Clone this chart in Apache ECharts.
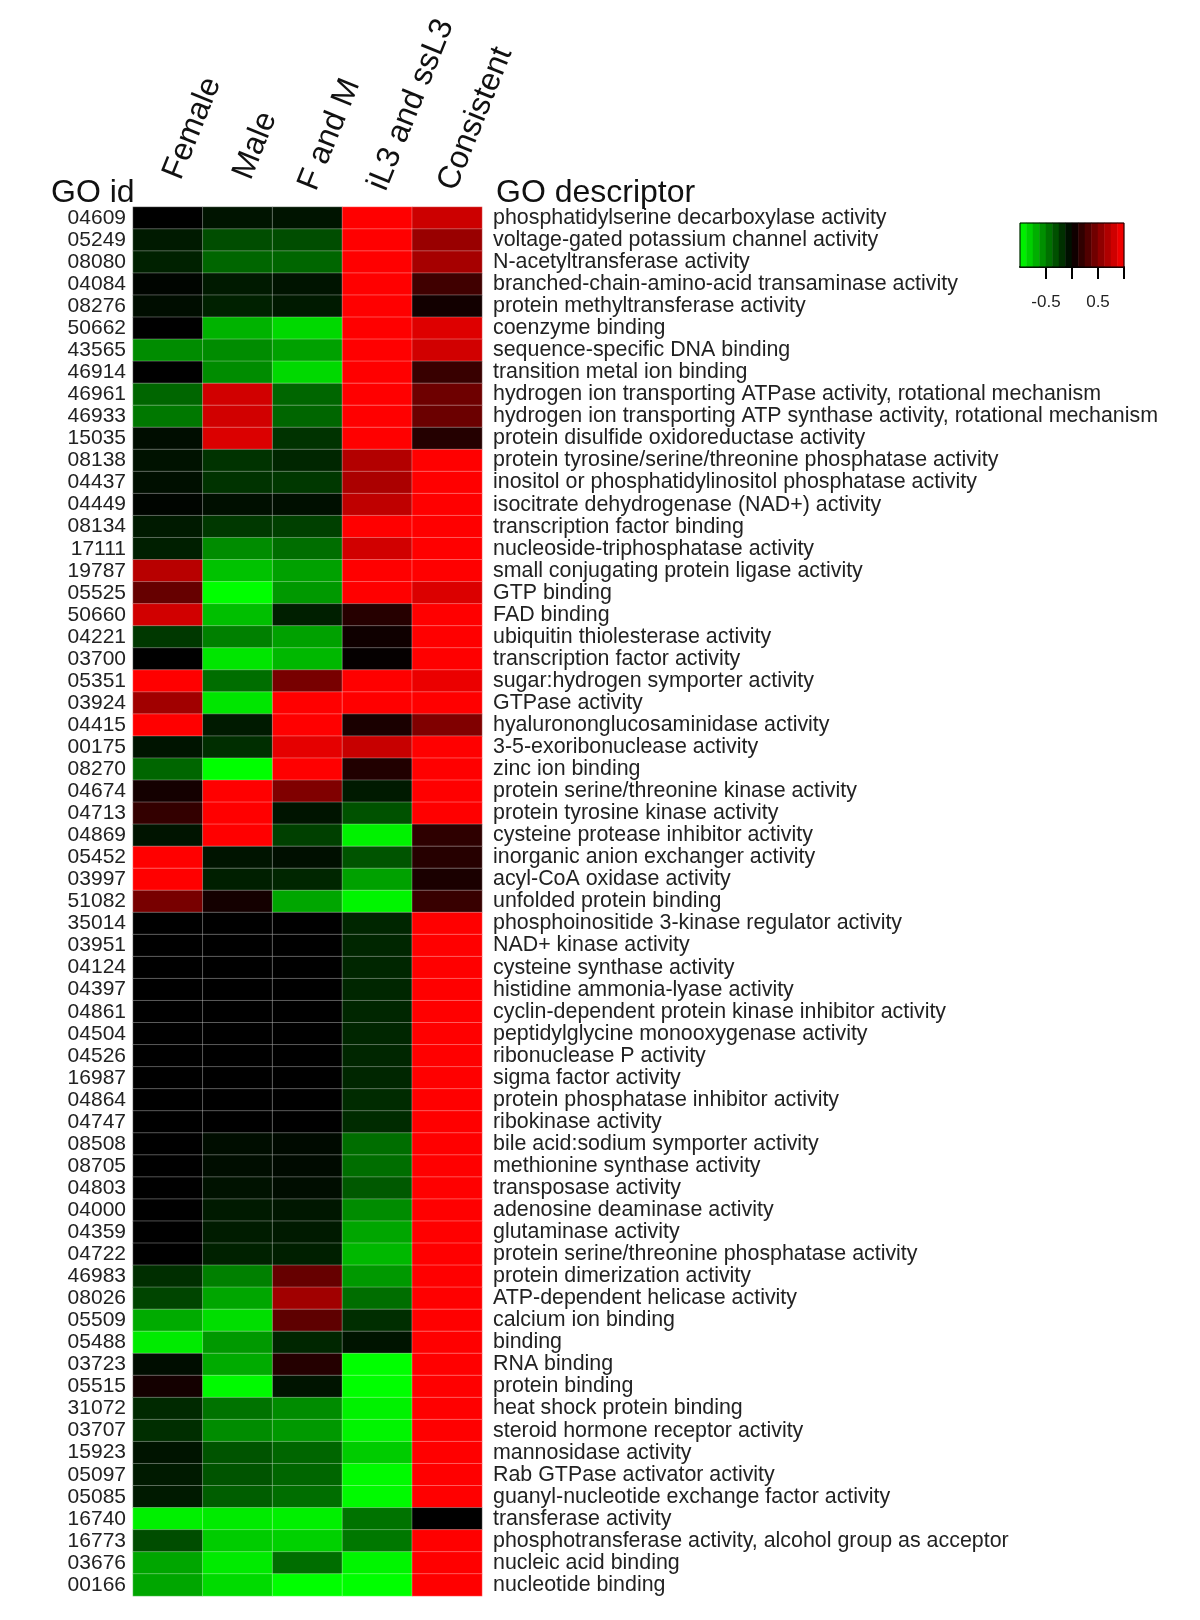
<!DOCTYPE html>
<html><head><meta charset="utf-8">
<script src="https://cdn.jsdelivr.net/npm/echarts@6.0.0/dist/echarts.min.js"></script>
<style>html,body{margin:0;padding:0;background:#fff}#c{width:1200px;height:1620px}</style>
</head><body><div id="c"></div>
<script>
const goIds = ['04609','05249','08080','04084','08276','50662','43565','46914','46961','46933','15035','08138','04437','04449','08134','17111','19787','05525','50660','04221','03700','05351','03924','04415','00175','08270','04674','04713','04869','05452','03997','51082','35014','03951','04124','04397','04861','04504','04526','16987','04864','04747','08508','08705','04803','04000','04359','04722','46983','08026','05509','05488','03723','05515','31072','03707','15923','05097','05085','16740','16773','03676','00166'];
const descriptors = ['phosphatidylserine decarboxylase activity','voltage-gated potassium channel activity','N-acetyltransferase activity','branched-chain-amino-acid transaminase activity','protein methyltransferase activity','coenzyme binding','sequence-specific DNA binding','transition metal ion binding','hydrogen ion transporting ATPase activity, rotational mechanism','hydrogen ion transporting ATP synthase activity, rotational mechanism','protein disulfide oxidoreductase activity','protein tyrosine/serine/threonine phosphatase activity','inositol or phosphatidylinositol phosphatase activity','isocitrate dehydrogenase (NAD+) activity','transcription factor binding','nucleoside-triphosphatase activity','small conjugating protein ligase activity','GTP binding','FAD binding','ubiquitin thiolesterase activity','transcription factor activity','sugar:hydrogen symporter activity','GTPase activity','hyalurononglucosaminidase activity','3-5-exoribonuclease activity','zinc ion binding','protein serine/threonine kinase activity','protein tyrosine kinase activity','cysteine protease inhibitor activity','inorganic anion exchanger activity','acyl-CoA oxidase activity','unfolded protein binding','phosphoinositide 3-kinase regulator activity','NAD+ kinase activity','cysteine synthase activity','histidine ammonia-lyase activity','cyclin-dependent protein kinase inhibitor activity','peptidylglycine monooxygenase activity','ribonuclease P activity','sigma factor activity','protein phosphatase inhibitor activity','ribokinase activity','bile acid:sodium symporter activity','methionine synthase activity','transposase activity','adenosine deaminase activity','glutaminase activity','protein serine/threonine phosphatase activity','protein dimerization activity','ATP-dependent helicase activity','calcium ion binding','binding','RNA binding','protein binding','heat shock protein binding','steroid hormone receptor activity','mannosidase activity','Rab GTPase activator activity','guanyl-nucleotide exchange factor activity','transferase activity','phosphotransferase activity, alcohol group as acceptor','nucleic acid binding','nucleotide binding'];
const columns = ['Female','Male','F and M','iL3 and ssL3','Consistent'];

const female = [0,-0.1,-0.13,-0.02,-0.05,0,-0.55,0,-0.4,-0.47,-0.05,-0.07,-0.06,-0.02,-0.1,-0.12,0.72,0.4,0.82,-0.22,0,1.0,0.63,1.0,-0.08,-0.4,0.08,0.2,-0.08,1.0,1.0,0.47,0,0,0,0,0,0,0,0,0,0,0,0,0,0,0,0,-0.18,-0.27,-0.67,-0.92,-0.05,0.08,-0.16,-0.18,-0.08,-0.1,-0.1,-0.94,-0.3,-0.65,-0.65];
const male = [-0.08,-0.3,-0.4,-0.1,-0.13,-0.7,-0.55,-0.55,0.82,0.82,0.86,-0.2,-0.2,-0.06,-0.22,-0.55,-0.76,-1.0,-0.75,-0.5,-0.9,-0.43,-0.9,-0.1,-0.18,-1.0,1.0,1.0,1.0,-0.08,-0.12,0.08,0,0,0,0,0,0,0,0,0,0,-0.05,-0.05,-0.07,-0.1,-0.11,-0.13,-0.5,-0.65,-0.87,-0.6,-0.67,-0.98,-0.45,-0.55,-0.33,-0.33,-0.37,-0.92,-0.8,-0.92,-0.86];
const fAndM = [-0.08,-0.3,-0.4,-0.08,-0.1,-0.85,-0.63,-0.85,-0.4,-0.4,-0.2,-0.15,-0.22,-0.06,-0.25,-0.43,-0.63,-0.6,-0.12,-0.63,-0.72,0.47,1.0,1.0,0.9,1.0,0.5,-0.08,-0.25,-0.06,-0.15,-0.65,0,0,0,0,0,0,0,0,0,0,-0.04,-0.04,-0.05,-0.09,-0.1,-0.12,0.4,0.63,0.37,-0.15,0.14,-0.08,-0.55,-0.6,-0.4,-0.4,-0.43,-0.94,-0.82,-0.43,-1.0];
const il3SsL3 = [1,1,1,1,1,1,1,1,1,1,1,0.7,0.67,0.75,1.0,0.82,1.0,1.0,0.15,0.06,0.02,1.0,1.0,0.1,0.78,0.13,-0.1,-0.32,-0.95,-0.33,-0.63,-0.96,-0.15,-0.15,-0.15,-0.15,-0.15,-0.15,-0.15,-0.15,-0.17,-0.17,-0.43,-0.43,-0.35,-0.55,-0.65,-0.72,-0.6,-0.43,-0.18,-0.08,-1.0,-1.0,-0.95,-0.96,-0.8,-0.98,-0.98,-0.45,-0.47,-0.96,-1.0];
const consistent = [0.8,0.6,0.65,0.25,0.07,0.87,0.82,0.22,0.43,0.42,0.14,1,1,1,1,1,1,0.86,1,1,1,0.92,1,0.5,1,1,1,1,0.18,0.15,0.1,0.22,1,1,1,1,1,1,1,1,1,1,1,1,1,1,1,1,1,1,1,1,1,1,1,1,1,1,1,0,1,1,1];

const legendSteps = [-0.9375,-0.8125,-0.6875,-0.5625,-0.4375,-0.3125,-0.1875,-0.0625,0.0625,0.1875,0.3125,0.4375,0.5625,0.6875,0.8125,0.9375];
const legendTicks = [-0.5,0,0.5,1];
const legendLabels = [-0.5,0.5];

const seriesCols = [female, male, fAndM, il3SsL3, consistent];
const cellData = [];
seriesCols.forEach((arr, c) => arr.forEach((v, r) => cellData.push([c, r, v])));
const legendData = legendSteps.map((v, i) => [i, 0, v]);
// the first two column headers sit a little higher in the original
const headerPad = [12, 12, 0, 0, 0];
const headerData = columns.map((name, i) => ({value: name, textStyle: {padding: [0, 0, 0, headerPad[i]]}}));

const sans = "'Liberation Sans', Arial, sans-serif";

const chart = echarts.init(document.getElementById('c'), null, {renderer: 'canvas'});
chart.setOption({
  animation: false,
  backgroundColor: '#fff',
  title: [
    {text: 'GO id', left: 46, top: 172, textStyle: {fontFamily: sans, fontSize: 32, fontWeight: 'normal', color: '#111'}},
    {text: 'GO descriptor', left: 491, top: 172, textStyle: {fontFamily: sans, fontSize: 32, fontWeight: 'normal', color: '#111'}}
  ],
  grid: [
    {left: 133, top: 207, width: 349, height: 1389},
    {left: 1020, top: 223, width: 104, height: 44, show: true, z: 5,
     backgroundColor: 'transparent', borderColor: '#000', borderWidth: 1}
  ],
  xAxis: [
    {type: 'category', gridIndex: 0, data: headerData, position: 'top',
     axisLine: {show: false}, axisTick: {show: false}, splitLine: {show: false},
     axisLabel: {rotate: -68, fontSize: 32, margin: 18, color: '#111', fontFamily: sans, interval: 0}},
    {type: 'category', gridIndex: 1, data: legendSteps.map(String), position: 'top', show: false},
    {type: 'value', gridIndex: 1, min: -1, max: 1, position: 'bottom',
     axisLine: {show: true, onZero: false, lineStyle: {color: '#000', width: 2}},
     axisTick: {show: true, customValues: legendTicks, length: 12, lineStyle: {color: '#000', width: 2}},
     axisLabel: {customValues: legendLabels, margin: 27, fontSize: 17, color: '#222', fontFamily: sans},
     splitLine: {show: false}}
  ],
  yAxis: [
    {type: 'category', gridIndex: 0, data: goIds, inverse: true,
     axisLine: {show: false}, axisTick: {show: false},
     axisLabel: {fontSize: 21, margin: 7, color: '#222', interval: 0, fontFamily: sans}},
    {type: 'category', gridIndex: 0, data: descriptors, inverse: true, position: 'right',
     axisLine: {show: false}, axisTick: {show: false},
     axisLabel: {fontSize: 21.4, margin: 11, color: '#222', interval: 0, fontFamily: sans}},
    {type: 'category', gridIndex: 1, data: ['scale'], show: false}
  ],
  visualMap: {show: false, min: -1, max: 1, dimension: 2, seriesIndex: [0, 1],
    inRange: {color: ['#00ff00', '#000000', '#ff0000']}},
  series: [
    {type: 'heatmap', xAxisIndex: 0, yAxisIndex: 0, data: cellData, silent: true,
     itemStyle: {borderColor: 'rgba(255,255,255,0.3)', borderWidth: 1}, emphasis: {disabled: true}},
    {type: 'heatmap', xAxisIndex: 1, yAxisIndex: 2, data: legendData, silent: true,
     emphasis: {disabled: true}}
  ]
});
</script></body></html>
